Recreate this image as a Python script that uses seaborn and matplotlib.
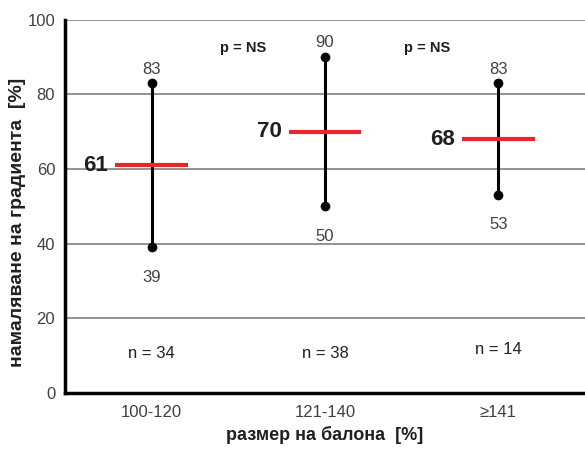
import numpy as np
import pandas as pd
import matplotlib.pyplot as plt
import seaborn as sns

# data
groups = ["100-120", "121-140", "≥141"]
medians = [61, 70, 68]
lows = [39, 50, 53]
highs = [83, 90, 83]
n_counts = [34, 38, 14]
p_labels = ["p = NS", "p = NS"]
p_pos = [0.53, 1.59]

sns.set_style("white")
plt.rcParams["font.family"] = ["Liberation Sans", "DejaVu Sans"]

df = pd.DataFrame({"group": groups, "median": medians, "low": lows, "high": highs, "n": n_counts})
pos = np.arange(len(groups))

fig = plt.figure(figsize=(5.85, 4.51), dpi=100)
ax = fig.add_axes([0.111, 0.129, 0.889, 0.827])

ax.yaxis.grid(True, color="#808080", lw=1.2)
ax.set_axisbelow(True)

ax.vlines(pos, df["low"], df["high"], color="black", lw=2.2, zorder=2)
pts = pd.DataFrame({"x": np.concatenate([pos, pos]), "y": np.concatenate([df["low"], df["high"]])})
sns.scatterplot(data=pts, x="x", y="y", color="black", s=42, edgecolor="black", ax=ax, zorder=3)
ax.hlines(df["median"], pos - 0.21, pos + 0.21, color="#e8262b", lw=3, zorder=4)

gray = "#404040"
for i, r in df.iterrows():
    ax.text(i - 0.25, r["median"], str(r["median"]), ha="right", va="center",
            fontsize=16, fontweight="bold", color="#202020")
    ax.text(i, r["high"] + 3.8, str(r["high"]), ha="center", va="center", fontsize=12, color=gray)
    ax.text(i, r["low"] - 8, str(r["low"]), ha="center", va="center", fontsize=12, color=gray)
    ax.text(i, 10.5 if r["n"] != 14 else 11.5, f"n = {r['n']}", ha="center", va="center",
            fontsize=12, color="#202020")

for x, lab in zip(p_pos, p_labels):
    ax.text(x, 92.5, lab, ha="center", va="center", fontsize=10.5, fontweight="bold", color="#202020")

ax.set_xlim(-0.5, 2.5)
ax.set_ylim(0, 100)
ax.set_yticks([0, 20, 40, 60, 80, 100])
ax.set_xticks(pos)
ax.set_xticklabels(groups)
ax.tick_params(axis="y", direction="inout", length=8, width=2, labelsize=12, labelcolor=gray, pad=3)
ax.tick_params(axis="x", length=0, labelsize=12, labelcolor=gray, pad=9)

sns.despine(ax=ax)
for s in ["left", "bottom"]:
    ax.spines[s].set_linewidth(2.5)
    ax.spines[s].set_color("black")

ax.set_xlabel("размер на балона  [%]", fontsize=13, fontweight="bold", color="#202020", labelpad=4)
ax.set_ylabel("намаляване на градиента  [%]", fontsize=14, fontweight="bold", color="#202020")
ax.yaxis.set_label_coords(-0.074, 0.458)

fig.savefig("out.png", dpi=100)
